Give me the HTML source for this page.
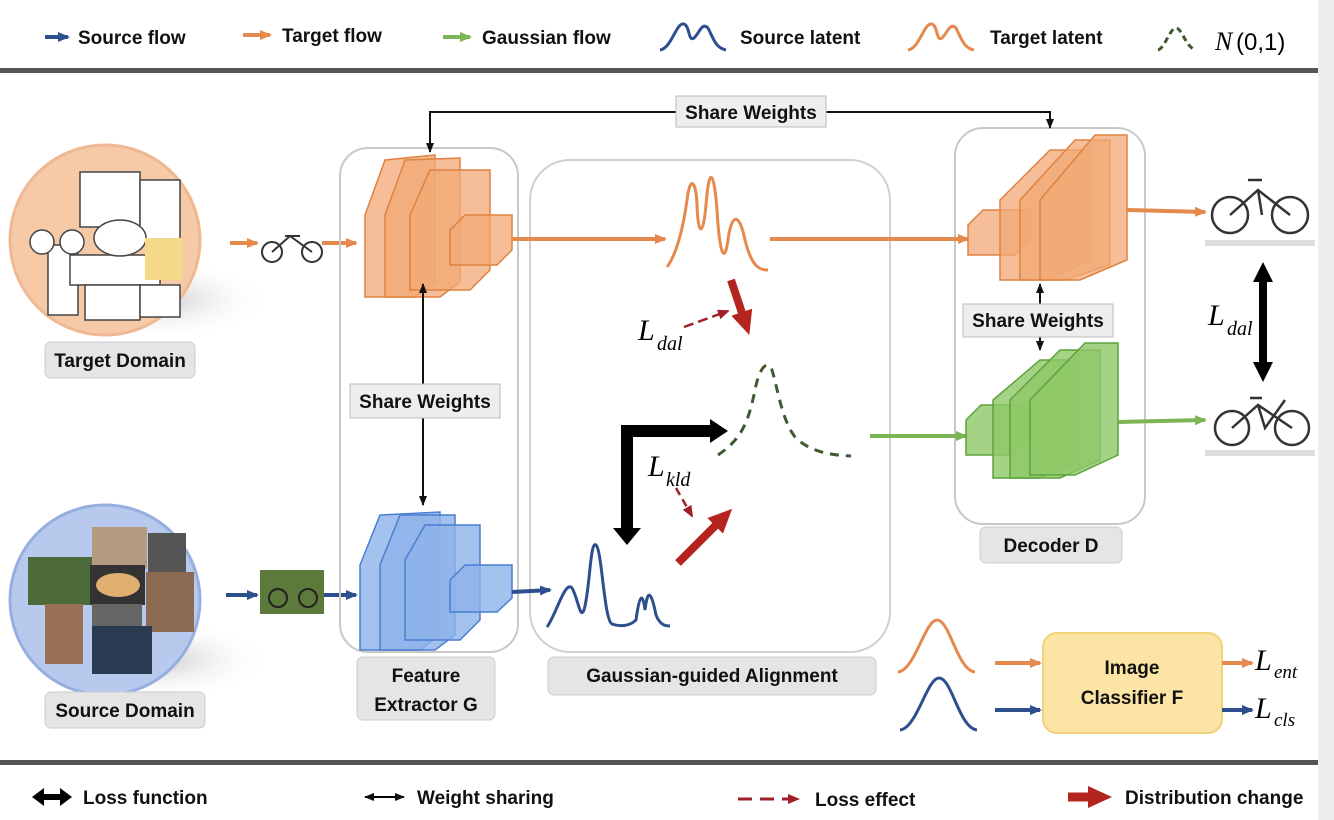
<!DOCTYPE html>
<html><head><meta charset="utf-8"><style>
body{margin:0;background:#fff}
svg{display:block}
text{font-family:"Liberation Sans",sans-serif}
.b{font-weight:bold;font-size:19px;fill:#111}
.m{font-family:"Liberation Serif",serif;font-style:italic}
</style></head><body>
<svg width="1334" height="820" viewBox="0 0 1334 820" xmlns="http://www.w3.org/2000/svg">
<defs>
<marker id="ab" markerUnits="userSpaceOnUse" markerWidth="12" markerHeight="10" refX="10" refY="5" orient="auto-start-reverse"><path d="M0,0L12,5L0,10z" fill="#2d4f8e"/></marker>
<marker id="ao" markerUnits="userSpaceOnUse" markerWidth="12" markerHeight="10" refX="10" refY="5" orient="auto-start-reverse"><path d="M0,0L12,5L0,10z" fill="#e58a4c"/></marker>
<marker id="ag" markerUnits="userSpaceOnUse" markerWidth="12" markerHeight="10" refX="10" refY="5" orient="auto-start-reverse"><path d="M0,0L12,5L0,10z" fill="#7db456"/></marker>
<marker id="ak" markerUnits="userSpaceOnUse" markerWidth="10" markerHeight="8" refX="9" refY="4" orient="auto-start-reverse"><path d="M0,0L10,4L0,8z" fill="#111"/></marker>
<marker id="ar" markerUnits="userSpaceOnUse" markerWidth="12" markerHeight="10" refX="10" refY="5" orient="auto"><path d="M0,0L12,5L0,10z" fill="#a0202a"/></marker>
<marker id="aR" markerUnits="userSpaceOnUse" markerWidth="24" markerHeight="22" refX="4" refY="11" orient="auto"><path d="M0,0L24,11L0,22z" fill="#b3241e"/></marker>
<marker id="aK" markerUnits="userSpaceOnUse" markerWidth="20" markerHeight="20" refX="4" refY="10" orient="auto-start-reverse"><path d="M0,0L20,10L0,20z" fill="#000"/></marker>
<radialGradient id="gs" cx="0.5" cy="0.5" r="0.5"><stop offset="0" stop-color="#ccc"/><stop offset="1" stop-color="#fff" stop-opacity="0"/></radialGradient>
</defs>
<rect x="1318" y="0" width="16" height="820" fill="#eee"/>
<!-- top legend -->
<line x1="45" y1="37" x2="68" y2="37" stroke="#2d4f8e" stroke-width="4" marker-end="url(#ab)"/>
<text x="78" y="44" class="b">Source flow</text>
<line x1="243" y1="35" x2="270" y2="35" stroke="#e58a4c" stroke-width="4" marker-end="url(#ao)"/>
<text x="282" y="42" class="b">Target flow</text>
<line x1="443" y1="37" x2="470" y2="37" stroke="#7db456" stroke-width="4" marker-end="url(#ag)"/>
<text x="482" y="44" class="b">Gaussian flow</text>
<path d="M660,50 C672,48 676,22 684,24 C690,26 688,42 694,38 C700,32 702,22 708,28 C714,40 716,48 726,50" fill="none" stroke="#2d4f8e" stroke-width="3"/>
<text x="740" y="44" class="b">Source latent</text>
<path d="M908,50 C920,48 924,22 932,24 C938,26 936,42 942,38 C948,32 950,22 956,28 C962,40 964,48 974,50" fill="none" stroke="#e58a4c" stroke-width="3"/>
<text x="990" y="44" class="b">Target latent</text>
<path d="M1158,50 C1165,48 1170,28 1176,28 C1182,28 1186,48 1196,50" fill="none" stroke="#3e5a2e" stroke-width="3" stroke-dasharray="6,4"/>
<text x="1215" y="50" class="m" font-size="26">N</text><text x="1236" y="50" font-family="Liberation Serif,serif" font-size="24">(0,1)</text>
<rect x="0" y="68" width="1318" height="5" fill="#555"/>
<rect x="0" y="760" width="1318" height="5" fill="#555"/>
<!-- bottom legend -->
<path d="M32,797 L44,788 L44,794 L60,794 L60,788 L72,797 L60,806 L60,800 L44,800 L44,806 Z" fill="#000"/>
<text x="83" y="804" class="b">Loss function</text>
<line x1="365" y1="797" x2="404" y2="797" stroke="#000" stroke-width="2" marker-end="url(#ak)" marker-start="url(#ak)"/>
<text x="417" y="804" class="b">Weight sharing</text>
<line x1="738" y1="799" x2="798" y2="799" stroke="#a0202a" stroke-width="3" stroke-dasharray="14,8" marker-end="url(#ar)"/>
<text x="815" y="806" class="b">Loss effect</text>
<line x1="1068" y1="797" x2="1092" y2="797" stroke="#b3241e" stroke-width="9" marker-end="url(#aR)"/>
<text x="1125" y="804" class="b">Distribution change</text>

<!-- domain circles -->
<ellipse cx="160" cy="300" rx="110" ry="40" fill="url(#gs)"/>
<circle cx="105" cy="240" r="95" fill="#f6c9a7" stroke="#f0b892" stroke-width="3"/>
<g fill="#fff" stroke="#444" stroke-width="1.5">
<rect x="80" y="172" width="60" height="55"/>
<rect x="140" y="180" width="40" height="60"/>
<rect x="48" y="245" width="30" height="70"/>
<rect x="70" y="255" width="90" height="30"/>
<rect x="85" y="285" width="55" height="35"/>
<rect x="140" y="285" width="40" height="32"/>
<ellipse cx="120" cy="238" rx="26" ry="18"/>
<circle cx="42" cy="242" r="12"/><circle cx="72" cy="242" r="12"/>
</g>
<rect x="145" y="238" width="38" height="42" fill="#f4d98a"/>
<ellipse cx="160" cy="660" rx="110" ry="40" fill="url(#gs)"/>
<circle cx="105" cy="600" r="95" fill="#b8c9ee" stroke="#97aee0" stroke-width="3"/>
<rect x="28" y="557" width="66" height="48" fill="#4d6a3a"/>
<rect x="92" y="527" width="55" height="42" fill="#b49a80"/>
<rect x="148" y="533" width="38" height="40" fill="#555"/>
<rect x="90" y="565" width="55" height="40" fill="#333"/>
<ellipse cx="118" cy="585" rx="22" ry="12" fill="#e0b070"/>
<rect x="146" y="572" width="48" height="60" fill="#8a6a50"/>
<rect x="45" y="604" width="38" height="60" fill="#9a7055"/>
<rect x="92" y="604" width="50" height="22" fill="#666"/>
<rect x="92" y="626" width="60" height="48" fill="#2a3a50"/>
<rect x="45" y="342" width="150" height="36" rx="6" fill="#e5e5e5" stroke="#ccc"/>
<text x="120" y="367" text-anchor="middle" class="b">Target Domain</text>
<rect x="45" y="692" width="160" height="36" rx="6" fill="#e5e5e5" stroke="#ccc"/>
<text x="125" y="717" text-anchor="middle" class="b">Source Domain</text>
<!-- small images -->
<circle cx="272" cy="252" r="10" fill="none" stroke="#333" stroke-width="2"/><circle cx="312" cy="252" r="10" fill="none" stroke="#333" stroke-width="2"/><path d="M272,252 L290,236 L312,252 M285,236 L300,236" stroke="#333" stroke-width="2" fill="none"/>
<rect x="260" y="570" width="64" height="44" fill="#5c7a3a"/>
<circle cx="278" cy="598" r="9" fill="none" stroke="#222" stroke-width="2"/><circle cx="308" cy="598" r="9" fill="none" stroke="#222" stroke-width="2"/>
<line x1="230" y1="243" x2="257" y2="243" stroke="#e58a4c" stroke-width="4" marker-end="url(#ao)"/>
<line x1="322" y1="243" x2="356" y2="243" stroke="#e58a4c" stroke-width="4" marker-end="url(#ao)"/>
<line x1="226" y1="595" x2="257" y2="595" stroke="#2d4f8e" stroke-width="4" marker-end="url(#ab)"/>
<line x1="324" y1="595" x2="356" y2="595" stroke="#2d4f8e" stroke-width="4" marker-end="url(#ab)"/>

<!-- panels -->
<rect x="340" y="148" width="178" height="504" rx="28" fill="none" stroke="#c8c8c8" stroke-width="2"/>
<rect x="530" y="160" width="360" height="492" rx="40" fill="#fff" stroke="#d0d0d0" stroke-width="2"/>
<rect x="955" y="128" width="190" height="396" rx="28" fill="none" stroke="#c8c8c8" stroke-width="2"/>

<!-- share weights top -->
<path d="M430,152 V112 H1050 V128" fill="none" stroke="#111" stroke-width="2" marker-end="url(#ak)" marker-start="url(#ak)"/>
<rect x="676" y="96" width="150" height="31" fill="#eee" stroke="#bbb"/>
<text x="751" y="119" text-anchor="middle" class="b">Share Weights</text>

<!-- encoder blocks -->
<g fill="#f2a875" fill-opacity="0.75" stroke="#e0823f" stroke-width="1.5">
<path d="M365,215 L385,160 L435,155 L435,282 L415,297 L365,297 Z"/>
<path d="M385,215 L405,160 L460,158 L460,282 L440,297 L385,297 Z"/>
<path d="M410,215 L430,170 L490,170 L490,270 L470,290 L410,290 Z"/>
<path d="M450,230 L465,215 L512,215 L512,250 L497,265 L450,265 Z"/>
</g>
<g fill="#8db3ea" fill-opacity="0.8" stroke="#4a7fd1" stroke-width="1.5">
<path d="M360,565 L380,515 L440,512 L440,635 L420,650 L360,650 Z"/>
<path d="M380,565 L400,515 L455,515 L455,635 L435,650 L380,650 Z"/>
<path d="M405,560 L425,525 L480,525 L480,620 L460,640 L405,640 Z"/>
<path d="M450,580 L465,565 L512,565 L512,598 L497,612 L450,612 Z"/>
</g>
<line x1="423" y1="284" x2="423" y2="505" stroke="#111" stroke-width="2" marker-end="url(#ak)" marker-start="url(#ak)"/>
<rect x="350" y="384" width="150" height="34" fill="#eee" stroke="#bbb"/>
<text x="425" y="408" text-anchor="middle" class="b">Share Weights</text>
<rect x="357" y="657" width="138" height="63" rx="6" fill="#e5e5e5" stroke="#ccc"/>
<text x="426" y="682" text-anchor="middle" class="b">Feature</text>
<text x="426" y="711" text-anchor="middle" class="b">Extractor G</text>

<!-- alignment area -->
<line x1="512" y1="239" x2="665" y2="239" stroke="#e58a4c" stroke-width="4" marker-end="url(#ao)"/>
<line x1="770" y1="239" x2="968" y2="239" stroke="#e58a4c" stroke-width="4" marker-end="url(#ao)"/>
<line x1="512" y1="592" x2="550" y2="590" stroke="#2d4f8e" stroke-width="4" marker-end="url(#ab)"/>
<line x1="870" y1="436" x2="966" y2="436" stroke="#7db456" stroke-width="4" marker-end="url(#ag)"/>
<path d="M667,267 C676,255 683,230 687,200 C690,175 696,180 697,205 C698,236 703,238 706,205 C709,165 714,170 717,210 C720,260 725,262 728,240 C732,210 740,215 745,240 C752,268 760,270 768,270" fill="none" stroke="#e58a4c" stroke-width="3"/>
<path d="M547,627 C556,615 565,580 572,588 C578,598 580,620 584,610 C590,590 590,540 596,545 C602,550 604,620 612,624 C620,627 630,626 636,620 C640,590 643,595 645,610 C648,585 652,595 656,615 C660,625 665,626 670,626" fill="none" stroke="#2d4f8e" stroke-width="3"/>
<path d="M718,455 C740,440 748,425 755,390 C760,365 768,360 772,370 C778,390 782,420 795,437 C810,452 830,455 851,456" fill="none" stroke="#3e5a2e" stroke-width="3" stroke-dasharray="9,7"/>
<line x1="731" y1="280" x2="743" y2="316" stroke="#b3241e" stroke-width="8" marker-end="url(#aR)"/>
<line x1="678" y1="563" x2="718" y2="523" stroke="#b3241e" stroke-width="8" marker-end="url(#aR)"/>
<line x1="684" y1="327" x2="728" y2="311" stroke="#a0202a" stroke-width="2.5" stroke-dasharray="10,5" marker-end="url(#ar)"/>
<line x1="676" y1="488" x2="692" y2="516" stroke="#a0202a" stroke-width="2.5" stroke-dasharray="8,5" marker-end="url(#ar)"/>
<path d="M627,530 V431 H712" fill="none" stroke="#000" stroke-width="12"/>
<path d="M613,528 L641,528 L627,545 Z M710,419 L728,431 L710,443 Z" fill="#000"/>
<text x="638" y="340" class="m" font-size="30">L</text><text x="657" y="350" class="m" font-size="20">dal</text>
<text x="648" y="476" class="m" font-size="30">L</text><text x="666" y="486" class="m" font-size="20">kld</text>
<rect x="548" y="657" width="328" height="38" rx="6" fill="#e5e5e5" stroke="#ccc"/>
<text x="712" y="682" text-anchor="middle" class="b">Gaussian-guided Alignment</text>

<!-- decoder -->
<g fill="#f2a875" fill-opacity="0.75" stroke="#e0823f" stroke-width="1.5">
<path d="M968,225 L983,210 L1030,210 L1030,240 L1015,255 L968,255 Z"/>
<path d="M1000,200 L1050,150 L1090,150 L1090,260 L1045,280 L1000,280 Z"/>
<path d="M1020,200 L1075,140 L1110,140 L1110,265 L1065,280 L1020,280 Z"/>
<path d="M1040,200 L1095,135 L1127,135 L1127,260 L1080,280 L1040,280 Z"/>
</g>
<g fill="#8fc867" fill-opacity="0.8" stroke="#5da23a" stroke-width="1.5">
<path d="M966,420 L981,405 L1028,405 L1028,440 L1013,455 L966,455 Z"/>
<path d="M993,400 L1040,360 L1080,360 L1080,460 L1040,478 L993,478 Z"/>
<path d="M1010,400 L1060,350 L1100,350 L1100,460 L1060,478 L1010,478 Z"/>
<path d="M1030,400 L1085,343 L1118,343 L1118,455 L1075,475 L1030,475 Z"/>
</g>
<line x1="1040" y1="284" x2="1040" y2="350" stroke="#111" stroke-width="2" marker-end="url(#ak)" marker-start="url(#ak)"/>
<rect x="963" y="304" width="150" height="33" fill="#eee" stroke="#bbb"/>
<text x="1038" y="327" text-anchor="middle" class="b">Share Weights</text>
<rect x="980" y="527" width="142" height="36" rx="6" fill="#e5e5e5" stroke="#ccc"/>
<text x="1051" y="552" text-anchor="middle" class="b">Decoder D</text>
<line x1="1127" y1="210" x2="1205" y2="212" stroke="#e58a4c" stroke-width="4" marker-end="url(#ao)"/>
<line x1="1118" y1="422" x2="1205" y2="420" stroke="#7db456" stroke-width="4" marker-end="url(#ag)"/>
<!-- bikes -->
<rect x="1205" y="240" width="110" height="6" fill="#ddd"/>
<circle cx="1230" cy="215" r="18" fill="none" stroke="#333" stroke-width="2.5"/><circle cx="1290" cy="215" r="18" fill="none" stroke="#333" stroke-width="2.5"/><path d="M1230,215 L1258,190 L1290,215 M1248,180 L1262,180 M1258,190 L1262,215" stroke="#333" stroke-width="2.5" fill="none"/>
<rect x="1205" y="450" width="110" height="6" fill="#ddd"/>
<circle cx="1232" cy="428" r="17" fill="none" stroke="#333" stroke-width="2.5"/><circle cx="1292" cy="428" r="17" fill="none" stroke="#333" stroke-width="2.5"/><path d="M1232,428 L1258,405 L1292,428 M1250,398 L1262,398 M1258,405 L1265,428 L1285,400" stroke="#333" stroke-width="2.5" fill="none"/>
<line x1="1263" y1="278" x2="1263" y2="366" stroke="#000" stroke-width="8" marker-end="url(#aK)" marker-start="url(#aK)"/>
<text x="1208" y="325" class="m" font-size="30">L</text><text x="1227" y="335" class="m" font-size="20">dal</text>

<!-- classifier -->
<path d="M898,672 C915,670 925,620 937,620 C950,620 957,670 975,672" fill="none" stroke="#e58a4c" stroke-width="3"/>
<path d="M900,730 C917,728 927,678 939,678 C952,678 959,728 977,730" fill="none" stroke="#2d4f8e" stroke-width="3"/>
<line x1="995" y1="663" x2="1040" y2="663" stroke="#e58a4c" stroke-width="4" marker-end="url(#ao)"/>
<line x1="995" y1="710" x2="1040" y2="710" stroke="#2d4f8e" stroke-width="4" marker-end="url(#ab)"/>
<rect x="1043" y="633" width="179" height="100" rx="14" fill="#fbe4a4" stroke="#f2d27a" stroke-width="2"/>
<text x="1132" y="674" text-anchor="middle" class="b">Image</text>
<text x="1132" y="704" text-anchor="middle" class="b">Classifier F</text>
<line x1="1222" y1="663" x2="1252" y2="663" stroke="#e58a4c" stroke-width="4" marker-end="url(#ao)"/>
<line x1="1222" y1="710" x2="1252" y2="710" stroke="#2d4f8e" stroke-width="4" marker-end="url(#ab)"/>
<text x="1255" y="670" class="m" font-size="30">L</text><text x="1274" y="678" class="m" font-size="19">ent</text>
<text x="1255" y="718" class="m" font-size="30">L</text><text x="1274" y="726" class="m" font-size="19">cls</text>
</svg>
</body></html>
